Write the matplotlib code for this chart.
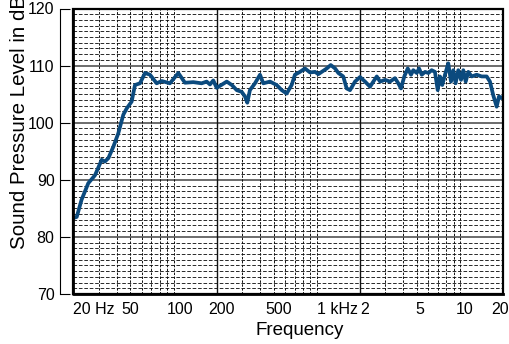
import matplotlib
matplotlib.use("Agg")
import matplotlib.pyplot as plt
from matplotlib.patches import Rectangle

plt.rcParams['font.family'] = ['Liberation Sans', 'DejaVu Sans']

freqs = [20, 21.1, 22.8, 25.4, 28.3, 31.5, 33.2, 35.1, 38.0, 41.1, 44.6, 47.1,
         51.0, 53.8, 58.3, 63.2, 68.5, 76.2, 82.6, 94.4, 107.9, 120.1, 137.4,
         157.1, 170.2, 179.5, 189.3, 200, 235, 255, 276, 299, 315, 327, 341,
         370, 401, 423, 471, 524, 569, 615, 667, 703, 762, 826, 896, 971,
         1024, 1081, 1172, 1250, 1340, 1413, 1528, 1614, 1703, 1846, 2000,
         2168, 2350, 2478, 2619, 2761, 2993, 3240, 3510, 3700, 3865, 4075,
         4306, 4540, 4710, 4980, 5165, 5395, 5690, 6000, 6325, 6670, 6970,
         7230, 7500, 7835, 8260, 8630, 8955, 9295, 9700, 10140, 10520, 10930,
         11400, 12030, 13030, 14130, 15310, 16140, 17020, 17980, 18660, 19500,
         20000]
levels = [83.3, 83.5, 86.5, 89.4, 90.8, 93.5, 93.2, 93.8, 95.8, 98.1, 101.4,
          102.5, 103.7, 106.6, 106.9, 108.7, 108.4, 106.9, 107.3, 106.9, 108.7,
          107.0, 107.1, 106.9, 107.2, 106.7, 107.4, 106.1, 107.2, 106.6, 105.7,
          105.4, 104.6, 103.5, 105.7, 106.9, 108.4, 106.9, 107.2, 106.6, 105.7,
          105.1, 106.6, 108.4, 108.9, 109.5, 108.8, 108.9, 108.5, 108.9, 109.5,
          110.1, 109.5, 108.7, 108.1, 106.0, 105.7, 107.2, 108.0, 107.2, 106.3,
          107.2, 108.1, 107.2, 107.5, 107.2, 107.8, 106.9, 106.0, 108.1, 109.5,
          108.4, 109.2, 108.7, 109.5, 108.4, 108.9, 108.7, 109.2, 108.9, 105.7,
          108.1, 106.6, 108.4, 110.4, 107.2, 109.2, 106.9, 109.2, 107.5, 109.2,
          107.2, 108.9, 108.1, 108.4, 108.1, 108.1, 107.2, 104.8, 102.8, 104.6,
          104.3, 104.6]

x_ticks = [20, 50, 100, 200, 500, 1000, 2000, 5000, 10000, 20000]
x_labels = ["20 Hz", "50", "100", "200", "500", "1 kHz", "2", "5", "10", "20"]
y_ticks = [70, 80, 90, 100, 110, 120]
solid_v = [200, 2000]
dashed_v = [30, 40, 50, 60, 70, 80, 90, 100,
            300, 400, 500, 600, 700, 800, 900, 1000,
            3000, 4000, 5000, 6000, 7000, 8000, 9000, 10000]

fig = plt.figure(figsize=(5.1, 3.44), dpi=100)
ax = fig.add_axes([73.4 / 510, 1 - 294 / 344, (503.3 - 73.4) / 510, (294 - 8.5) / 344])
ax.set_xscale('log')
ax.set_xlim(20, 20000)
ax.set_ylim(70, 120)

# grid
for db in range(71, 120):
    if db % 10 == 0:
        ax.axhline(db, color='#444444', lw=1.1, zorder=1)
    else:
        ax.axhline(db, color='#1a1a1a', lw=0.65, ls=(0, (4, 2)), zorder=1)
for f in dashed_v:
    ax.axvline(f, color='#111111', lw=0.7, ls=(0, (2.5, 1.5)), zorder=1)
for f in solid_v:
    ax.axvline(f, color='#111111', lw=1.0, zorder=1)

ax.plot(freqs, levels, color='#0b4a7e', lw=2.7, solid_joinstyle='round', zorder=3)

# frame
for s in ['top', 'right', 'bottom']:
    ax.spines[s].set_visible(False)
ax.add_patch(Rectangle((0, 0), 1, 1, transform=ax.transAxes, fill=False,
                       ec='black', lw=1.6, clip_on=False, zorder=5))
ax.plot([0, 0, 1], [1, 0, 0], transform=ax.transAxes, color='black', lw=2.0,
        clip_on=False, zorder=6)

# offset y axis with inward ticks
ax.spines['left'].set_position(('outward', 9.6))
ax.spines['left'].set_linewidth(0.8)
ax.set_yticks(y_ticks)
ax.tick_params(axis='y', direction='in', length=7.2, width=0.8, pad=4, labelsize=11.5)

# x labels drawn by hand to match offsets
ax.set_xticks([])
ax.minorticks_off()
x_ha = ['left', 'center', 'center', 'center', 'center', 'left', 'left', 'center', 'center', 'center']
x_dx = [0, 0, 4.5, 3.6, 3.6, 0, 0, 2, 3, -2]
for f, lab, ha, dx in zip(x_ticks, x_labels, x_ha, x_dx):
    ax.annotate(lab, xy=(f, 0), xycoords=('data', 'axes fraction'),
                xytext=(dx, -6), textcoords='offset points',
                ha=ha, va='top', fontsize=11.5)

fig.text(300 / 510, 1 - 322 / 344, "Frequency", ha='center', va='top', fontsize=13.5)
fig.text(20 / 510, 1 - 249 / 344, "Sound Pressure Level in dB", rotation=90,
         ha='center', va='bottom', fontsize=14.8)

fig.savefig("out.png", dpi=100)
